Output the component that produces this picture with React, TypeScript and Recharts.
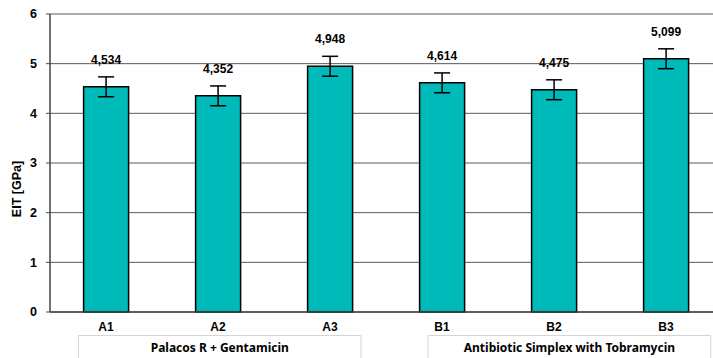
import React from "react";
import { BarChart, Bar, XAxis, YAxis, CartesianGrid, ErrorBar, LabelList } from "recharts";

const categories = ["A1", "A2", "A3", "B1", "B2", "B3"];
const eitValues = [4.534, 4.352, 4.948, 4.614, 4.475, 5.099];
const eitErrors = [0.2, 0.2, 0.2, 0.2, 0.2, 0.2];
const yTicks = [0, 1, 2, 3, 4, 5, 6];
const groupNames = ["Palacos R + Gentamicin", "Antibiotic Simplex with Tobramycin"];
const groupStart = [0, 3];
const groupEnd = [2, 5];

const CHART_W = 730;
const CHART_H = 358;
const MARGIN = { top: 14, right: 8, left: 10, bottom: 0 };
const Y_AXIS_W = 40;
const BAND = (CHART_W - MARGIN.left - MARGIN.right - Y_AXIS_W) / categories.length;
// box insets (fraction of band) relative to first/last category centre
const groupBoxInset = [
  { left: 0.245, right: 0.277 },
  { left: 0.125, right: 0.4 },
];

const data = categories.map((c, i) => ({ name: c, value: eitValues[i], err: eitErrors[i] }));

const FONT = "'Liberation Sans', Arial, sans-serif";

const CategoryTick = (props: any) => {
  const { x, y, payload } = props;
  const idx = payload.index;
  const g = groupStart.indexOf(idx);
  let box = null;
  if (g >= 0) {
    const startX = x;
    const endX = x + (groupEnd[g] - groupStart[g]) * BAND;
    const left = startX - groupBoxInset[g].left * BAND;
    const right = endX + groupBoxInset[g].right * BAND;
    box = (
      <g>
        <path
          d={`M${left},${y + 60} L${left},${y + 23.5} L${right},${y + 23.5} L${right},${y + 60}`}
          fill="none"
          stroke="#d4d4d4"
          strokeWidth={1}
        />
        <text
          x={(left + right) / 2}
          y={y + 39.5}
          textAnchor="middle"
          fontFamily="'Noto Sans', 'Open Sans', sans-serif"
          fontWeight="bold"
          fontSize={12}
          fill="#000"
        >
          {groupNames[g]}
        </text>
      </g>
    );
  }
  return (
    <g>
      <text x={x} y={y + 18.5} textAnchor="middle" fontFamily={FONT} fontWeight="bold" fontSize={12} fill="#000">
        {payload.value}
      </text>
      {box}
    </g>
  );
};

const ValueLabel = (props: any) => {
  const { x, y, width, height, value, index } = props;
  const errPx = (height / value) * eitErrors[index];
  return (
    <text
      x={x + width / 2}
      y={y - errPx - 13}
      textAnchor="middle"
      fontFamily={FONT}
      fontWeight="bold"
      fontSize={12}
      fill="#000"
    >
      {Number(value).toFixed(3).replace(".", ",")}
    </text>
  );
};

const YTitle = (props: any) => {
  const { viewBox } = props;
  const cx = 17;
  const cy = viewBox.y + viewBox.height / 2 + 26;
  return (
    <text
      x={cx}
      y={cy}
      transform={`rotate(-90, ${cx}, ${cy})`}
      textAnchor="middle"
      dominantBaseline="central"
      fontFamily={FONT}
      fontWeight="bold"
      fontSize={12.5}
      fill="#000"
    >
      EIT [GPa]
    </text>
  );
};

export default function App() {
  return (
    <div style={{ position: "absolute", left: 0, top: 0, width: 713, height: 358, overflow: "hidden", background: "#fff" }}>
      <BarChart width={CHART_W} height={CHART_H} data={data} margin={MARGIN} barCategoryGap="30%">
        <CartesianGrid vertical={false} stroke="#5a5a5a" strokeWidth={1} />
        <XAxis
          dataKey="name"
          height={46}
          tickLine={false}
          tickSize={0}
          tickMargin={0}
          axisLine={{ stroke: "#444", strokeWidth: 1.5 }}
          tick={<CategoryTick />}
          interval={0}
        />
        <YAxis
          width={Y_AXIS_W}
          domain={[0, 6]}
          ticks={yTicks}
          tickSize={4}
          tickMargin={9}
          axisLine={{ stroke: "#444", strokeWidth: 1.5 }}
          tickLine={{ stroke: "#444" }}
          tick={{ fontFamily: FONT, fontWeight: "bold", fontSize: 12.5, fill: "#000" }}
          label={<YTitle />}
        />
        <Bar dataKey="value" fill="#00BABA" stroke="#000" strokeWidth={1.5} isAnimationActive={false}>
          <ErrorBar dataKey="err" width={8} stroke="#000" strokeWidth={1.5} />
          <LabelList dataKey="value" content={<ValueLabel />} />
        </Bar>
      </BarChart>
    </div>
  );
}
